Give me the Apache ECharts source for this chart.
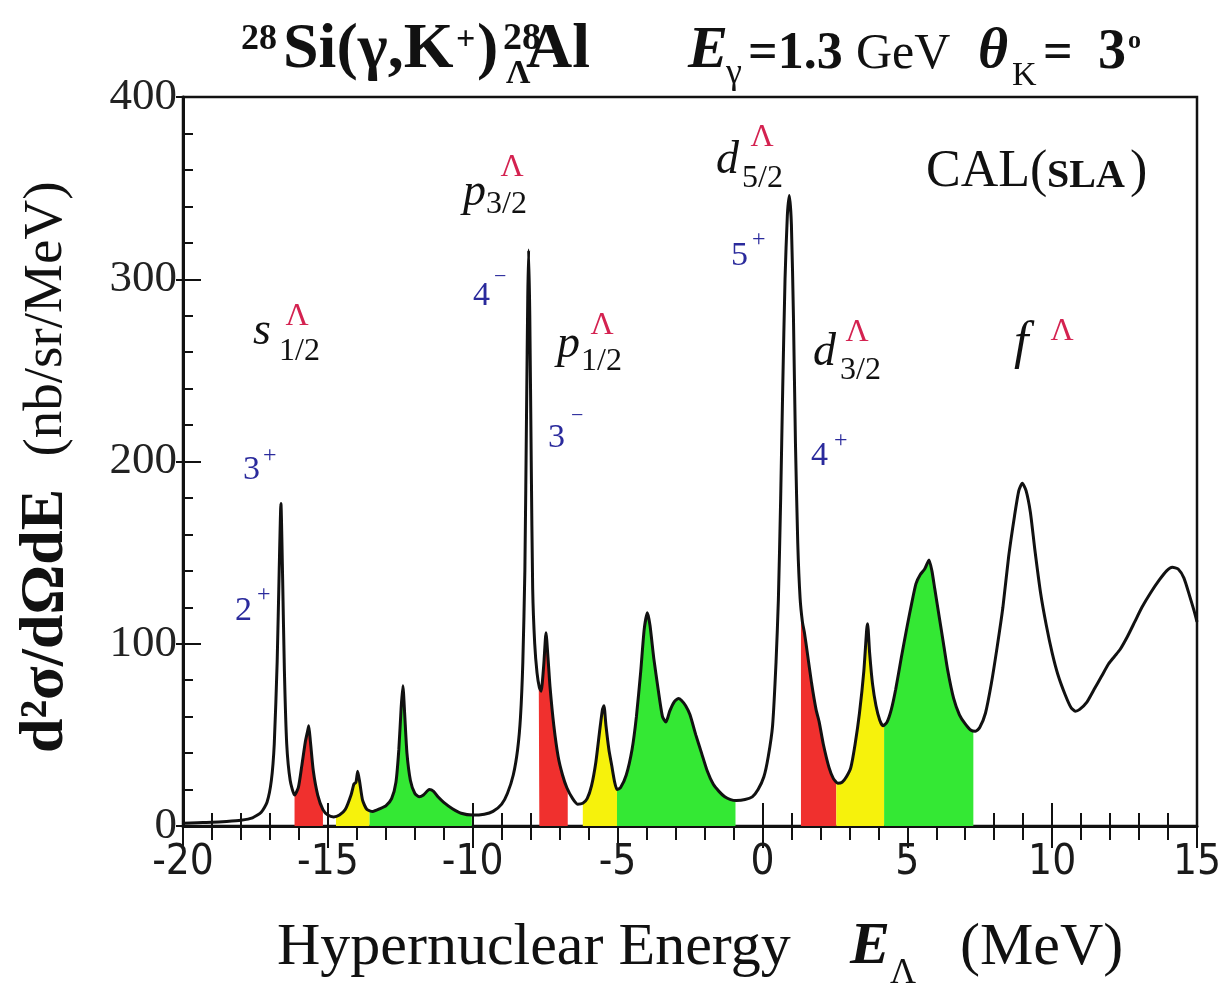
<!DOCTYPE html>
<html>
<head>
<meta charset="utf-8">
<script src="https://cdn.jsdelivr.net/npm/echarts@6/dist/echarts.min.js"></script>
<style>
html,body{margin:0;padding:0;background:#fff;}
#chart{width:1229px;height:997px;}
</style>
</head>
<body>
<div id="chart"></div>
<script>
// Hypernuclear energy E_Lambda (MeV)
const energy = [
-20,-19.5,-19,-18.5,-18,-17.6,-17.3,-17.1,-16.95,-16.85,-16.75,-16.68,-16.62,-16.56,-16.5,-16.42,-16.3,-16.15,
-16.02,-15.9,-15.78,-15.7,-15.66,-15.6,-15.5,-15.35,-15.17,-15.0,-14.8,-14.6,-14.4,-14.2,-14.1,-14.03,-13.97,
-13.9,-13.8,-13.65,-13.45,-13.2,-13.0,-12.8,-12.65,-12.55,-12.47,-12.41,-12.35,-12.27,-12.15,-12.0,-11.85,-11.7,
-11.5,-11.35,-11.2,-11.0,-10.7,-10.4,-10.0,-9.6,-9.3,-9.0,-8.8,-8.6,-8.45,-8.35,-8.27,-8.2,-8.14,-8.1,-8.07,
-8.03,-7.98,-7.93,-7.86,-7.78,-7.7,-7.64,-7.55,-7.47,-7.4,-7.33,-7.2,-7.05,-6.9,-6.75,-6.55,-6.38,-6.2,-6.05,
-5.9,-5.75,-5.62,-5.52,-5.47,-5.4,-5.3,-5.2,-5.1,-5.02,-4.9,-4.7,-4.5,-4.35,-4.2,-4.08,-3.97,-3.88,-3.75,-3.6,
-3.45,-3.33,-3.2,-3.05,-2.9,-2.8,-2.65,-2.5,-2.3,-2.1,-1.9,-1.7,-1.5,-1.3,-1.1,-0.9,-0.6,-0.35,-0.15,0.05,0.2,
0.35,0.47,0.55,0.63,0.7,0.78,0.86,0.93,1.0,1.07,1.14,1.22,1.3,1.38,1.45,1.55,1.7,1.85,1.96,2.1,2.3,2.45,2.6,
2.75,2.9,3.05,3.2,3.35,3.5,3.6,3.63,3.7,3.8,3.92,4.05,4.16,4.3,4.45,4.6,4.8,5.0,5.15,5.3,5.45,5.6,5.75,5.85,
5.95,6.1,6.25,6.4,6.6,6.8,7.0,7.2,7.35,7.5,7.7,7.9,8.1,8.3,8.5,8.7,8.85,8.97,9.1,9.25,9.4,9.6,9.8,10.0,10.2,
10.45,10.65,10.8,10.95,11.2,11.45,11.7,11.95,12.15,12.35,12.6,12.85,13.1,13.4,13.7,13.95,14.15,14.35,14.55,
14.75,14.9,15.0
];
// d^2 sigma / dOmega dE (nb/sr/MeV)
const crossSection = [
1.5,1.8,2,2.5,3.2,4.5,7.5,13,25,45,90,140,177,135,85,45,25,17,
21,33,46,52,55,46,30,17,9,6,5,6,9,17,23,24,30,
24,14,9,8,9.5,11,15,24,42,65,77,62,40,25,18,16,17,
20,19,16,13,9.5,7,6,6.5,8,12,18,28,42,60,90,140,230,290,316,
280,200,130,100,84,76,74,88,106,92,76,55,38,28,21,15,12,12.5,15,
22,35,52,64,66,55,42,33,24,20,21,28,42,60,85,108,117,110,92,75,
60,57,63,68,70,69,66,61,50,40,30,23,19,16,14.5,14,14.5,16,20,27,38,
55,90,124,180,240,300,335,346,330,280,210,155,125,112,106,95,78,64,57,45,32,26,23.5,
24,27,32,45,62,85,108,111,95,78,66,58,55,57,64,75,93,110,122,133,138,141,146,140,
130,115,100,85,70,61,56,52.5,52,54,62,78,98,120,148,170,184,188,184,172,152,128,110,95,83,
72,65,63,64,68,75,82,89,93,97,104,112,120,128,135,140,142,141,136,
126,118,112
];
// shaded energy windows [from, to]
const redBands = [[-16.15,-15.17],[-7.72,-6.72],[1.33,2.55]];
const yellowBands = [[-14.72,-13.56],[-6.2,-5.02],[2.55,4.2]];
const greenBands = [[-13.56,-10.03],[-5.02,-0.93],[4.2,7.28]];

const SERIF = '"Liberation Serif", "Times New Roman", serif';
const NARROW = '"Liberation Sans Narrow", "Arial Narrow", "DejaVu Sans Condensed", "Liberation Sans", sans-serif';

function interp(e){
  for (let i=0;i<energy.length-1;i++){
    if (e>=energy[i] && e<=energy[i+1]){
      const t=(e-energy[i])/(energy[i+1]-energy[i]);
      return crossSection[i]+t*(crossSection[i+1]-crossSection[i]);
    }
  }
  return 0;
}
function bandData(a,b){
  const pts=[[a,interp(a)]];
  for (let i=0;i<energy.length;i++){
    if (energy[i]>a && energy[i]<b) pts.push([energy[i],crossSection[i]]);
  }
  pts.push([b,interp(b)]);
  return pts;
}
const SMOOTH = 0.2;
function bandSeries(bands,color){
  return bands.map(b=>({
    type:'line', xAxisIndex:0, yAxisIndex:0, data:bandData(b[0],b[1]), smooth:SMOOTH,
    symbol:'none', lineStyle:{width:0}, areaStyle:{color:color, opacity:1}, silent:true, z:2
  }));
}

function txt(x, baseline, text, font, fill, align){
  const fs = parseFloat(font.match(/(\d+(\.\d+)?)px/)[1]);
  return {type:'text', x:x, y: baseline - 0.3375*fs, z:100,
    style:{text:text, font:font, fill:fill||'#111', align:align||'left', verticalAlign:'middle',
           textAlign:align||'left', textVerticalAlign:'middle'}};
}
const BLUE='#2a2a9c', RED='#d42250', BLK='#111';
const fIt = s=>'italic '+s+'px '+SERIF;
const fRg = s=>s+'px '+SERIF;
const fBd = s=>'bold '+s+'px '+SERIF;
const fBI = s=>'bold italic '+s+'px '+SERIF;

const graphics = [
  // title
  txt(241,52,'28',fBd(36)),
  txt(283,72,'Si(γ,K',fBd(64)),
  txt(456,52,'+',fBd(34)),
  txt(477,72,')',fBd(64)),
  txt(503,52,'28',fBd(38)),
  txt(506,86,'Λ',fBd(34)),
  txt(526,72,'Al',fBd(64)),
  txt(688,72,'E',fBI(60)),
  txt(726,86,'γ',fRg(36)),
  txt(748,72,'=1.3',fBd(52)),
  txt(856,72,'GeV',fRg(50)),
  txt(978,72,'θ',fBI(58)),
  txt(1012,88,'K',fRg(34)),
  txt(1043,72,'=',fBd(52)),
  txt(1098,72,'3',fBd(56)),
  txt(1128,50,'o',fBd(26)),
  // x axis name
  txt(277,968,'Hypernuclear Energy',fRg(60)),
  txt(850,968,'E',fBI(60)),
  txt(890,986,'Λ',fRg(36)),
  txt(960,968,'(MeV)',fRg(60)),
  // y axis name (rotated)
  {type:'text', x:46, y:621, rotation:Math.PI/2, z:100,
   style:{text:'d²σ/dΩdE', font:fBd(62), fill:BLK, align:'center', verticalAlign:'middle', textAlign:'center', textVerticalAlign:'middle'}},
  {type:'text', x:47, y:319, rotation:Math.PI/2, z:100,
   style:{text:'(nb/sr/MeV)', font:fRg(55), fill:BLK, align:'center', verticalAlign:'middle', textAlign:'center', textVerticalAlign:'middle'}},
  // s 1/2
  txt(253,347,'s',fIt(46)),
  txt(279,362,'1/2',fRg(32)),
  txt(297,327,'Λ',fRg(32),RED,'center'),
  txt(243,482,'3',fRg(34),BLUE),
  txt(263,464,'+',fRg(24),BLUE),
  txt(235,623,'2',fRg(34),BLUE),
  txt(257,603,'+',fRg(24),BLUE),
  // p 3/2
  txt(463,208,'p',fIt(46)),
  txt(486,215,'3/2',fRg(32)),
  txt(512,178,'Λ',fRg(32),RED,'center'),
  txt(473,308,'4',fRg(34),BLUE),
  txt(494,285,'−',fRg(22),BLUE),
  // p 1/2
  txt(557,360,'p',fIt(46)),
  txt(581,372,'1/2',fRg(32)),
  txt(602,336,'Λ',fRg(32),RED,'center'),
  txt(548,450,'3',fRg(34),BLUE),
  txt(571,424,'−',fRg(22),BLUE),
  // d 5/2
  txt(716,176,'d',fIt(46)),
  txt(742,189,'5/2',fRg(32)),
  txt(762,148,'Λ',fRg(32),RED,'center'),
  txt(731,268,'5',fRg(34),BLUE),
  txt(752,248,'+',fRg(24),BLUE),
  // CAL(SLA)
  txt(926,190,'CAL(',fRg(52)),
  txt(1047,190,'SLA',fBd(40)),
  txt(1130,190,')',fRg(52)),
  // d 3/2
  txt(813,368,'d',fIt(46)),
  txt(840,381,'3/2',fRg(32)),
  txt(857,343,'Λ',fRg(32),RED,'center'),
  txt(811,468,'4',fRg(34),BLUE),
  txt(834,449,'+',fRg(24),BLUE),
  // f
  txt(1014,362,'f',fIt(52)),
  txt(1062,342,'Λ',fRg(32),RED,'center')
];

const chart = echarts.init(document.getElementById('chart'), null, {renderer:'canvas'});
const axisLineStyle = {color:BLK, width:3};
const option = {
  animation:false,
  backgroundColor:'#fff',
  grid:{left:183, right:32, top:97, bottom:171, show:true, borderColor:BLK, borderWidth:2.5, backgroundColor:'transparent'},
  xAxis:[
    {type:'value', min:-20, max:15, interval:5, position:'bottom',
     axisLine:{show:true, onZero:false, lineStyle:axisLineStyle},
     axisTick:{show:true, inside:false, length:22, lineStyle:{color:BLK, width:2}},
     minorTick:{show:true, splitNumber:5, length:14, lineStyle:{color:BLK, width:2}},
     axisLabel:{show:true, margin:16, fontFamily:NARROW, fontSize:42, color:'#1a1a1a'},
     splitLine:{show:false}, minorSplitLine:{show:false}},
    {type:'value', min:-20, max:15, interval:5, position:'bottom', offset:0,
     axisLine:{show:false, onZero:false},
     axisTick:{show:true, inside:true, length:23, lineStyle:{color:BLK, width:2}},
     minorTick:{show:true, splitNumber:5, length:13, lineStyle:{color:BLK, width:2}},
     axisLabel:{show:false}, splitLine:{show:false}}
  ],
  yAxis:[
    {type:'value', min:0, max:400, interval:100, position:'left',
     axisLine:{show:true, onZero:false, lineStyle:axisLineStyle},
     axisTick:{show:true, inside:true, length:18, lineStyle:{color:BLK, width:2}},
     minorTick:{show:true, splitNumber:5, length:10, lineStyle:{color:BLK, width:2}},
     axisLabel:{show:true, margin:6, fontFamily:SERIF, fontSize:45, color:'#222'},
     splitLine:{show:false}},
    {type:'value', min:0, max:400, interval:100, position:'left', offset:0,
     axisLine:{show:false, onZero:false},
     axisTick:{show:true, inside:false, length:7, lineStyle:{color:BLK, width:2}},
     axisLabel:{show:false}, splitLine:{show:false}}
  ],
  series:[
    ...bandSeries(redBands,'#f0302e'),
    ...bandSeries(yellowBands,'#f6f20c'),
    ...bandSeries(greenBands,'#34e834'),
    {type:'line', xAxisIndex:0, yAxisIndex:0, data:energy.map((e,i)=>[e,crossSection[i]]),
     smooth:SMOOTH, symbol:'none', lineStyle:{color:BLK, width:3}, z:5, silent:true}
  ],
  graphic: graphics
};
chart.setOption(option);
</script>
</body>
</html>
